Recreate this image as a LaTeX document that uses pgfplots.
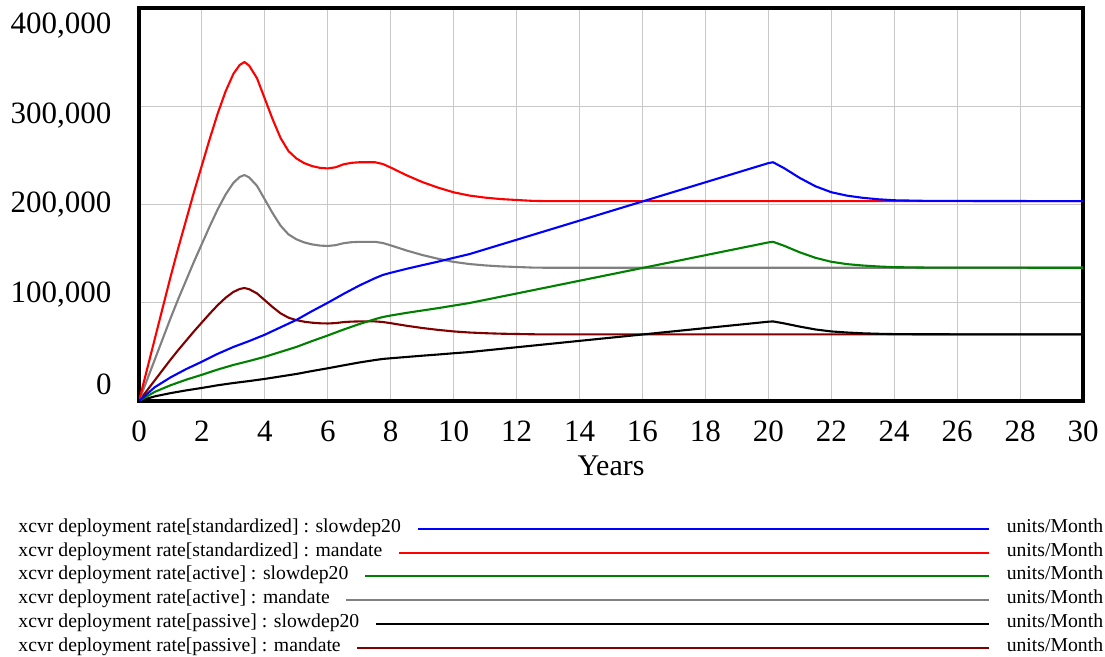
\documentclass[border=0pt]{standalone}
\usepackage{pgfplots}
\usepackage{pgfplotstable}
\pgfplotsset{compat=1.18}
\usepackage{fontspec}
\setmainfont{Liberation Serif}

\definecolor{vblue}{RGB}{0,0,255}
\definecolor{vred}{RGB}{255,0,0}
\definecolor{vgreen}{RGB}{0,128,0}
\definecolor{vgray}{RGB}{128,128,128}
\definecolor{vdarkred}{RGB}{128,0,0}
\definecolor{vgrid}{RGB}{200,200,200}

% mandate runs
\pgfplotstableread{
t     red     gray    darkred
0     0       0       0
0.25  31500   21000   10500
0.5   63000   42000   21000
0.75  94500   63000   31500
1.0   126000  84000   42000
1.25  156000  104000  52000
1.5   184500  123000  61500
1.75  213000  142000  71000
2.0   240000  160000  80000
2.25  267000  178000  89000
2.5   292500  195000  97500
2.75  315000  210000  105000
3.0   333000  222000  111000
3.2   342000  228000  114000
3.35  345000  230000  115000
3.5   341400  227600  113800
3.75  328500  219000  109500
4.0   307500  205000  102500
4.25  286500  191000  95500
4.5   267600  178400  89200
4.75  254400  169600  84800
5.0   246900  164600  82300
5.25  242100  161400  80700
5.5   239100  159400  79700
5.75  237300  158200  79100
6.0   236700  157800  78900
6.25  237900  158600  79300
6.5   240900  160600  80300
6.75  242400  161600  80800
7.0   243000  162000  81000
7.5   243000  162000  81000
7.75  241200  160800  80400
8.0   237600  158400  79200
8.5   229800  153200  76600
9.0   222900  148600  74300
9.5   217200  144800  72400
10.0  212400  141600  70800
10.5  209100  139400  69700
11.0  207000  138000  69000
11.5  205500  137000  68500
12.0  204600  136400  68200
12.5  203700  135800  67900
13.0  203400  135600  67800
30    203400  135600  67800
}\mandate

% slowdep20 runs
\pgfplotstableread{
t      blue    green   black
0      0       0       0
0.5    14000   9300    4700
1      24000   16000   8000
1.5    32500   21700   10800
2      40000   26700   13300
2.5    48000   32000   16000
3      55000   36700   18300
3.5    61000   40700   20300
4      67500   45000   22500
4.5    75000   50000   25000
5      82500   55000   27500
5.5    91500   61000   30500
6      100000  66700   33300
6.5    109000  72700   36300
7      117500  78300   39200
7.5    125000  83300   41700
7.75   128300  85500   42800
8      130500  87000   43500
8.5    134500  89700   44800
9      138200  92100   46100
9.5    141800  94500   47300
10     145700  97100   48600
10.5   149500  99700   49800
12     164100  109400  54700
14     183600  122400  61200
16     203100  135400  67700
18     222600  148400  74200
20     242100  161400  80700
20.15  243000  162000  81000
20.5   237000  158000  79000
21     227000  151300  75700
21.5   218500  145700  72800
22     212500  141700  70800
22.5   209000  139300  69700
23     206800  137900  68900
23.5   205300  136900  68400
24     204300  136200  68100
25     203700  135800  67900
30     203400  135600  67800
}\slowdep

\begin{document}
\begin{tikzpicture}
\path[use as bounding box] (0bp,0bp) rectangle (1105bp,657bp);
\begin{axis}[
  at={(139bp,256bp)}, anchor=south west,
  scale only axis, width=944bp, height=393bp,
  xmin=0, xmax=30, ymin=0, ymax=400000,
  xtick={0,2,...,30},
  xticklabels={0,2,4,6,8,10,12,14,16,18,20,22,24,26,28,30},
  ytick={0,100000,200000,300000,400000},
  yticklabels={},
  extra y ticks={17303,108397,199491,290585,381679},
  extra y tick labels={0,{100,000},{200,000},{300,000},{400,000}},
  extra y tick style={grid=none, major tick length=0pt,
     yticklabel style={anchor=east, inner sep=0pt, xshift=-27.3bp}},
  major tick length=0pt,
  grid=major,
  grid style={color=vgrid, line width=1bp},
  axis line style={line width=4.5bp, line join=miter},
  xticklabel style={anchor=north, inner sep=0pt, yshift=-20bp,
     font=\fontsize{31bp}{31bp}\selectfont},
  yticklabel style={font=\fontsize{31bp}{31bp}\selectfont},
  scaled y ticks=false,
  xlabel={Years},
  xlabel style={at={(axis description cs:0.5,0)}, anchor=north, inner sep=0pt,
     yshift=-55bp, font=\fontsize{30bp}{30bp}\selectfont},
  every axis plot/.append style={line width=2.1bp, line join=round},
]
\addplot[vdarkred, mark=none] table[x=t, y=darkred] {\mandate};
\addplot[black, mark=none] table[x=t, y=black] {\slowdep};
\addplot[vgray, mark=none] table[x=t, y=gray] {\mandate};
\addplot[vgreen, mark=none] table[x=t, y=green] {\slowdep};
\addplot[vred, mark=none] table[x=t, y=red] {\mandate};
\addplot[vblue, mark=none] table[x=t, y=blue] {\slowdep};
\end{axis}

% legend (Vensim style)
\begin{scope}[every node/.style={inner sep=0pt, font=\fontsize{19.7bp}{19.7bp}\selectfont}]
\foreach \i/\lab/\col in {
  0/{xcvr deployment rate[standardized] : slowdep20}/vblue,
  1/{xcvr deployment rate[standardized] : mandate}/vred,
  2/{xcvr deployment rate[active] : slowdep20}/vgreen,
  3/{xcvr deployment rate[active] : mandate}/vgray,
  4/{xcvr deployment rate[passive] : slowdep20}/black,
  5/{xcvr deployment rate[passive] : mandate}/vdarkred} {
  \pgfmathsetmacro{\ly}{657-529-23.75*\i}
  \pgfmathsetmacro{\by}{\ly-3.5}
  \node[anchor=base west] (lab\i) at (18.3bp,\by bp) {\lab};
  \node[anchor=base east] at (1103.3bp,\by bp) {units/Month};
  \draw[\col, line width=2bp] ([xshift=16.5bp]lab\i.base east |- 0,\ly bp) -- (989.3bp,\ly bp);
}
\end{scope}
\end{tikzpicture}
\end{document}
